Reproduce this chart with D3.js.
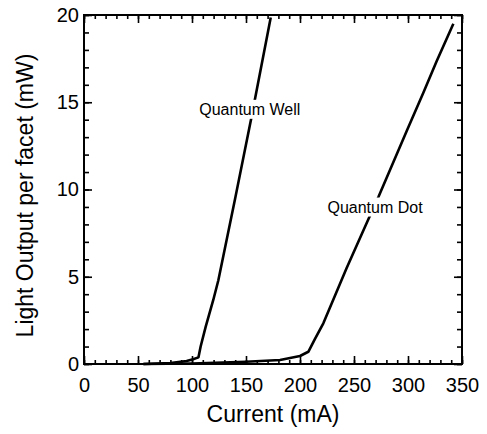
<!DOCTYPE html>
<html>
<head>
<meta charset="utf-8">
<script src="https://cdn.jsdelivr.net/npm/d3@7"></script>
<style>
  body { margin: 0; background: #fff; }
  text { font-family: "Liberation Sans", Arial, Helvetica, sans-serif; fill: #000; }
</style>
</head>
<body>
<svg id="plot"></svg>
<script>
// values
const qwCurrent = [55, 80, 95, 101, 106, 108, 112.7, 119.7, 124.4, 140, 154.6, 172.9];
const qwPower   = [0, 0.05, 0.17, 0.27, 0.38, 1.0, 2.14, 3.67, 4.8, 9.5, 14.0, 19.85];
const qdCurrent = [55, 100, 150, 181.5, 200, 207.7, 214, 221.6, 243.2, 263.3, 272.5, 298.8, 314.2, 326.5, 342];
const qdPower   = [0, 0.03, 0.13, 0.23, 0.46, 0.7, 1.45, 2.33, 5.5, 8.3, 9.55, 13.35, 15.55, 17.35, 19.5];
const xMajor = [0, 50, 100, 150, 200, 250, 300, 350];
const yMajor = [0, 5, 10, 15, 20];
const xMinor = d3.range(0, 351, 10);
const yMinor = d3.range(0, 21, 1);
const labels = [
  {text: "Quantum Well", x: 153.5, y: 14.6},
  {text: "Quantum Dot", x: 269.5, y: 9.0}
];

const svg = d3.select("#plot");
const margin = {top: 15, right: 25, bottom: 70, left: 84};
const W = 487, H = 434;
const width = W - margin.left - margin.right;
const height = H - margin.top - margin.bottom;
svg.attr("width", W).attr("height", H);

const g = svg.append("g").attr("transform", "translate(" + margin.left + "," + margin.top + ")");

const x = d3.scaleLinear().domain([0, 350]).range([0, width]);
const y = d3.scaleLinear().domain([0, 20]).range([height, 0]);

function styleAxis(sel) {
  sel.select(".domain").remove();
  sel.selectAll(".tick line").attr("stroke", "#000").attr("stroke-width", 1.6);
  sel.selectAll(".tick text").style("font-size", "20px")
     .style("font-family", "'Liberation Sans', Arial, Helvetica, sans-serif");
}

// bottom
g.append("g").attr("transform", "translate(0," + height + ")")
  .call(d3.axisBottom(x).tickValues(xMinor).tickSize(-4).tickFormat("")).call(styleAxis);
g.append("g").attr("transform", "translate(0," + height + ")")
  .call(d3.axisBottom(x).tickValues(xMajor).tickSize(-8).tickPadding(14).tickFormat(d3.format("d"))).call(styleAxis);
// top
g.append("g")
  .call(d3.axisTop(x).tickValues(xMinor).tickSize(-4).tickFormat("")).call(styleAxis);
g.append("g")
  .call(d3.axisTop(x).tickValues(xMajor).tickSize(-8).tickFormat("")).call(styleAxis);
// left
g.append("g")
  .call(d3.axisLeft(y).tickValues(yMinor).tickSize(-5).tickFormat("")).call(styleAxis);
g.append("g")
  .call(d3.axisLeft(y).tickValues(yMajor).tickSize(-8).tickPadding(5).tickFormat(d3.format("d"))).call(styleAxis);
// right
g.append("g").attr("transform", "translate(" + width + ",0)")
  .call(d3.axisRight(y).tickValues(yMinor).tickSize(-5).tickFormat("")).call(styleAxis);
g.append("g").attr("transform", "translate(" + width + ",0)")
  .call(d3.axisRight(y).tickValues(yMajor).tickSize(-8).tickFormat("")).call(styleAxis);

// frame
g.append("rect").attr("width", width).attr("height", height)
  .attr("fill", "none").attr("stroke", "#000").attr("stroke-width", 2);

const line = d3.line().x(d => x(d[0])).y(d => y(d[1]));

g.append("path").datum(d3.zip(qwCurrent, qwPower))
  .attr("d", line).attr("fill", "none").attr("stroke", "#000")
  .attr("stroke-width", 2.6).attr("stroke-linejoin", "round");
g.append("path").datum(d3.zip(qdCurrent, qdPower))
  .attr("d", line).attr("fill", "none").attr("stroke", "#000")
  .attr("stroke-width", 2.6).attr("stroke-linejoin", "round");

// curve labels, white box breaks the line
labels.forEach(function(l) {
  const lg = g.append("g");
  const bg = lg.append("rect").attr("fill", "#fff");
  const t = lg.append("text")
    .attr("x", x(l.x)).attr("y", y(l.y))
    .attr("text-anchor", "middle")
    .attr("dy", "0.35em")
    .style("font-size", "16px")
    .text(l.text);
  const b = t.node().getBBox();
  bg.attr("x", b.x - 2).attr("y", b.y - 1)
    .attr("width", b.width + 4).attr("height", b.height + 2);
});

// axis titles
svg.append("text")
  .attr("x", margin.left + width / 2).attr("y", 422)
  .attr("text-anchor", "middle")
  .style("font-size", "23px")
  .text("Current (mA)");
svg.append("text")
  .attr("transform", "translate(33," + (margin.top + height / 2 + 6) + ") rotate(-90)")
  .attr("text-anchor", "middle")
  .style("font-size", "23px")
  .text("Light Output per facet (mW)");
</script>
</body>
</html>
